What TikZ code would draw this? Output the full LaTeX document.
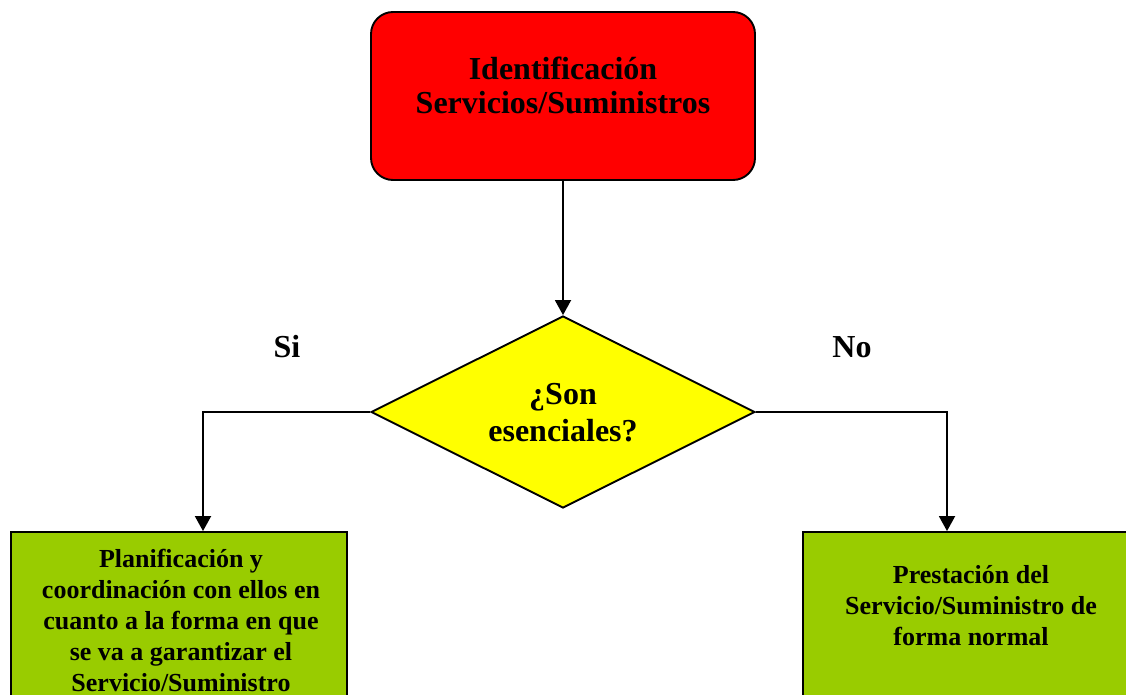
\documentclass[tikz,border=0pt]{standalone}
\usepackage{fontspec}
\setmainfont{Liberation Serif}
\usetikzlibrary{arrows.meta,shapes.geometric}
\definecolor{boxred}{HTML}{FF0000}
\definecolor{boxyellow}{HTML}{FFFF00}
\definecolor{boxgreen}{HTML}{99CC00}
\begin{document}
\begin{tikzpicture}[x=1pt,y=-1pt,
 shapeline/.style={draw=black,line width=1.9pt,inner sep=0pt},
 smalltxt/.style={font=\bfseries\fontsize{26}{31}\selectfont, align=center, inner sep=0pt},
 bigtxt/.style={font=\bfseries\fontsize{32}{34}\selectfont, align=center, inner sep=0pt},
 arr/.style={line width=1.9pt,-{Triangle[length=15pt,width=16pt]}},
]
\useasboundingbox (0,0) rectangle (1126,695);
\clip (0,0) rectangle (1126,695);
\fill[white] (0,0) rectangle (1126,695);

\node[shapeline, fill=boxred, rounded corners=22pt, minimum width=384pt, minimum height=168pt] (ident) at (563,96) {};
\node[bigtxt] (identtxt) at (563,85) {Identificación\\Servicios/Suministros};

\node[shapeline, diamond, fill=boxyellow, aspect=2, minimum width=384pt, minimum height=192pt] (dec) at (563,412) {};
\node[bigtxt, font=\bfseries\fontsize{32}{37}\selectfont] (dectxt) at (563,413) {¿Son\\esenciales?};

\node[shapeline, fill=boxgreen, minimum width=336pt, minimum height=198pt] (leftbox) at (179,631) {};
\node[smalltxt] (lefttxt) at (181,620) {Planificación y\\coordinación con ellos en\\cuanto a la forma en que\\se va a garantizar el\\Servicio/Suministro};

\node[shapeline, fill=boxgreen, minimum width=336pt, minimum height=198pt] (rightbox) at (971,631) {};
\node[smalltxt] (righttxt) at (971,606) {Prestación del\\Servicio/Suministro de\\forma normal};

\node[bigtxt] (si) at (287,347) {Si};
\node[bigtxt] (no) at (852,347) {No};

\draw[arr] (ident.south) -- (dec.north);
\draw[arr] (dec.west) -| ([xshift=24pt]leftbox.north);
\draw[arr] (dec.east) -| ([xshift=-24pt]rightbox.north);
\end{tikzpicture}
\end{document}
